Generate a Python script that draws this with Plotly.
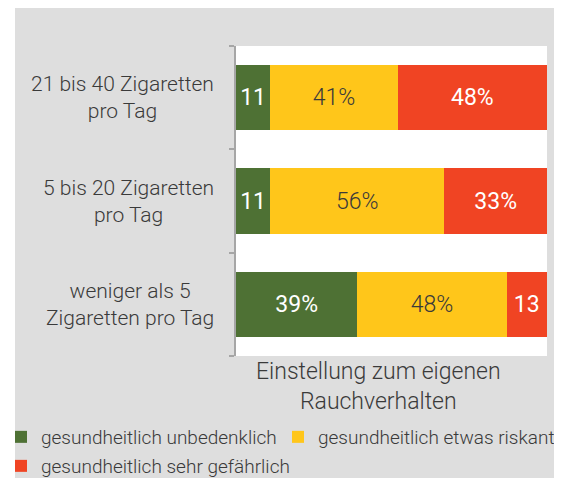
import plotly.graph_objects as go

categories = ["weniger als 5<br>Zigaretten pro Tag", "5 bis 20 Zigaretten<br>pro Tag", "21 bis 40 Zigaretten<br>pro Tag"]
series_names = ["gesundheitlich unbedenklich", "gesundheitlich etwas riskant", "gesundheitlich sehr gefährlich"]
unbedenklich = [39, 11, 11]
riskant = [48, 56, 41]
gefaehrlich = [13, 33, 48]
axis_title = "Einstellung zum eigenen<br>Rauchverhalten"

colors = ["#4E7134", "#FFC61A", "#F04423"]
text_colors = ["white", "#3A3A3A", "white"]
text_weights = [400, 300, 400]
legends = ["legend", "legend2", "legend3"]
FONT = "Roboto"
W, H = 554, 470
L, R, T, B = 228, 15, 38, 122
pw, ph = W - L - R, H - T - B


def px_x(px):
    return (px - L) / pw


def px_y(py):
    return 1 - (py - T) / ph


def labels(vals):
    return [f"{v}%" if v >= 20 else f"{v}" for v in vals]


fig = go.Figure()
for i, (name, vals) in enumerate(zip(series_names, [unbedenklich, riskant, gefaehrlich])):
    fig.add_trace(go.Bar(
        y=categories, x=vals, name=name, orientation="h",
        marker=dict(color=colors[i], line=dict(width=0)),
        text=labels(vals), textposition="inside", insidetextanchor="middle",
        textfont=dict(family=FONT, size=23, color=text_colors[i], weight=text_weights[i]),
        hoverinfo="skip", legend=legends[i],
    ))

# category labels (centered multi-line)
for cat in categories:
    fig.add_annotation(x=px_x(208), xref="paper", y=cat, yref="y", text=cat,
                       showarrow=False, xanchor="right", align="center",
                       font=dict(family=FONT, size=21, color="#3A3A3A", weight=300))

# axis title
fig.add_annotation(x=px_x(370), xref="paper", y=px_y(378.5), yref="paper",
                   text=axis_title, showarrow=False, xanchor="center", yanchor="middle",
                   align="center", font=dict(family=FONT, size=23, color="#3A3A3A", weight=300))

# white outer margin on the left
fig.add_shape(type="rect", xref="paper", yref="paper", x0=px_x(-2), x1=px_x(7),
              y0=px_y(H + 2), y1=px_y(-2), fillcolor="white", line=dict(width=0), layer="above")

legend_font = dict(family=FONT, size=19, color="#3A3A3A", weight=300)
legend_common = dict(orientation="v", xanchor="left", yanchor="middle", font=legend_font,
                     itemwidth=30, bgcolor="rgba(0,0,0,0)", borderwidth=0)
fig.update_layout(
    width=W, height=H, margin=dict(l=L, r=R, t=T, b=B, autoexpand=False),
    barmode="stack", bargap=0.37,
    paper_bgcolor="#DEDEDE", plot_bgcolor="white",
    font=dict(family=FONT, color="#3A3A3A"),
    xaxis=dict(range=[0, 100], showticklabels=False, showgrid=False, zeroline=False,
               showline=False, ticks="", fixedrange=True),
    yaxis=dict(showticklabels=False, showgrid=False, zeroline=False, showline=True,
               linecolor="#A6A6A6", linewidth=2, ticks="outside", tickson="boundaries",
               ticklen=5, tickcolor="#A6A6A6", tickwidth=2, fixedrange=True),
    legend=dict(x=px_x(-7), y=px_y(429), **legend_common),
    legend2=dict(x=px_x(270), y=px_y(429), **legend_common),
    legend3=dict(x=px_x(-7), y=px_y(458), **legend_common),
    showlegend=True,
)
fig.write_html("out.html")
